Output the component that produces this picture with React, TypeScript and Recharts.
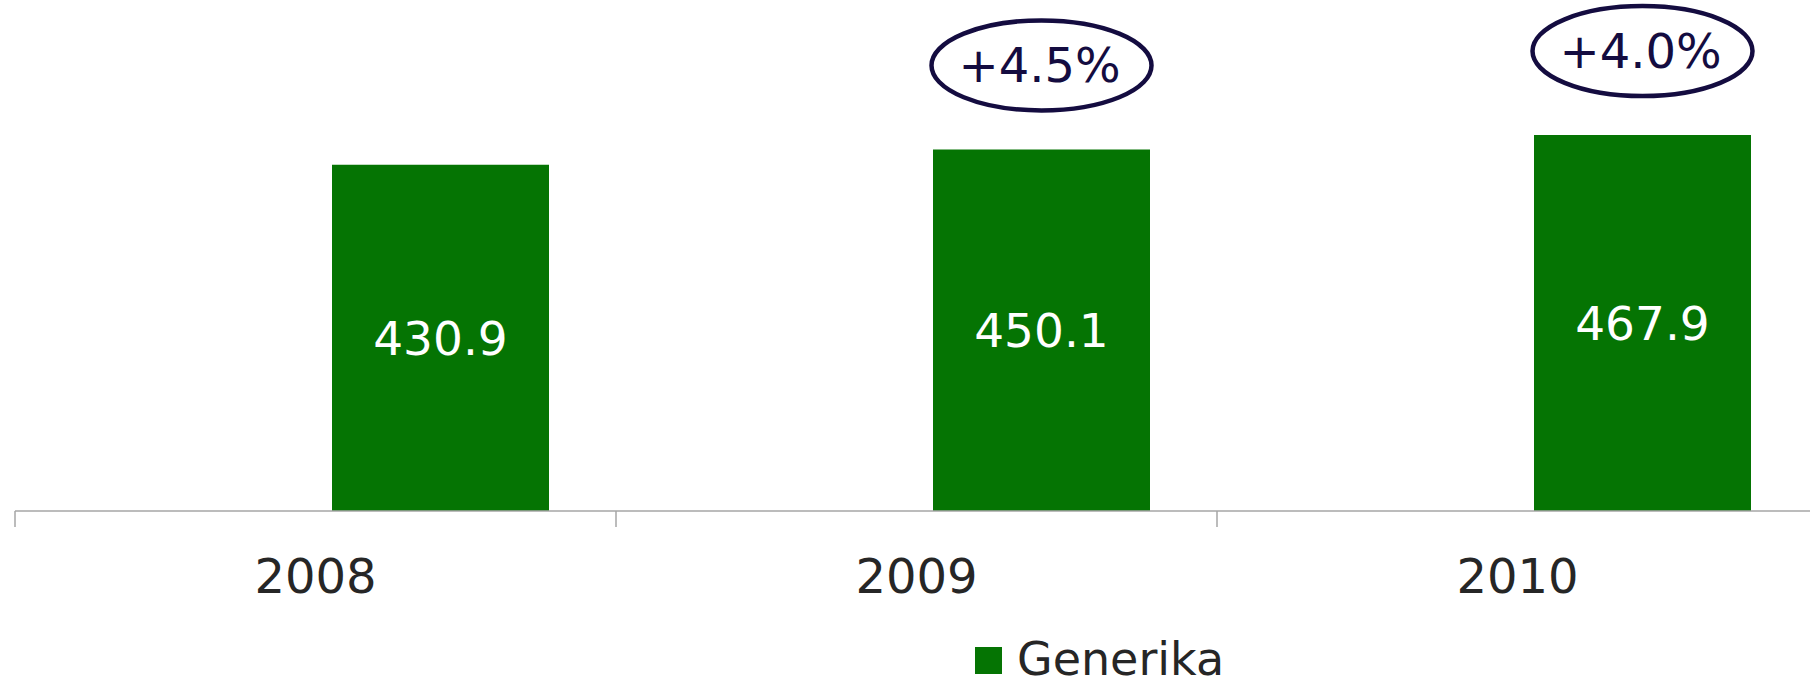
import { BarChart, Bar, XAxis, YAxis, Legend, LabelList } from 'recharts';

const years = ['2008', '2009', '2010'];
const generika = [430.9, 450.1, 467.9];
const growth = ['', '+4.5%', '+4.0%'];

const GREEN = '#057403';
const NAVY = '#140c40';
const AXIS = '#a6a6a6';
const FONT = '"DejaVu Sans", Verdana, sans-serif';

const data = years.map((year, i) => ({
  year,
  spacer: null,
  generika: generika[i],
  growth: growth[i],
}));

// ellipse callout with the growth figure above the bar
const GrowthBadge = (props: any) => {
  const { x, y, width, value } = props;
  if (!value) return null;
  const cx = Number(x) + Number(width) / 2;
  const cy = Number(y) - 84;
  return (
    <g>
      <ellipse cx={cx} cy={cy} rx={110} ry={45} fill="#fff" stroke={NAVY} strokeWidth={4.5} />
      <text x={cx - 2} y={cy} dy={17} textAnchor="middle" fontSize={48} fontFamily={FONT} fill={NAVY}>
        {value}
      </text>
    </g>
  );
};

// year label plus an Excel-style tick mark on the left edge of the category
const YearTick = (props: any) => {
  const { x, y, payload } = props;
  const edge = x - (payload.offset || 0);
  return (
    <g>
      <line x1={edge} x2={edge} y1={y} y2={y + 16} stroke={AXIS} strokeWidth={1.5} />
      <text x={x} y={y + 82} textAnchor="middle" fontSize={48} fontFamily={FONT} fill="#262626">
        {payload.value}
      </text>
    </g>
  );
};

const LegendBox = () => (
  <div style={{ position: 'relative', height: 46, width: 300, fontFamily: FONT }}>
    <span style={{ position: 'absolute', left: 0, top: 15, width: 27, height: 27, background: GREEN }} />
    <span style={{ position: 'absolute', left: 42, top: 8, fontSize: 46, lineHeight: '38px', color: '#262626', whiteSpace: 'nowrap' }}>
      Generika
    </span>
  </div>
);

export default function App() {
  return (
    <div style={{ position: 'absolute', top: 0, left: 0, width: 1810, height: 682, overflow: 'hidden', background: '#fff' }}>
      <BarChart
        width={1830}
        height={682}
        data={data}
        margin={{ top: 29, right: 12, left: 15, bottom: 0 }}
        barGap={33}
      >
        <XAxis
          dataKey="year"
          axisLine={{ stroke: AXIS, strokeWidth: 1.5 }}
          tickLine={false}
          tickSize={0}
          tickMargin={0}
          height={125}
          tick={<YearTick />}
          interval={0}
        />
        <YAxis hide domain={[0, 600]} />
        <Legend content={<LegendBox />} wrapperStyle={{ top: 632, left: 975, width: 300 }} />
        <Bar dataKey="spacer" barSize={217} fill="none" legendType="none" isAnimationActive={false} />
        <Bar dataKey="generika" name="Generika" barSize={217} fill={GREEN} isAnimationActive={false}>
          <LabelList dataKey="generika" position="center" fill="#fff" fontSize={47} fontFamily={FONT} />
          <LabelList dataKey="growth" content={<GrowthBadge />} />
        </Bar>
      </BarChart>
    </div>
  );
}
